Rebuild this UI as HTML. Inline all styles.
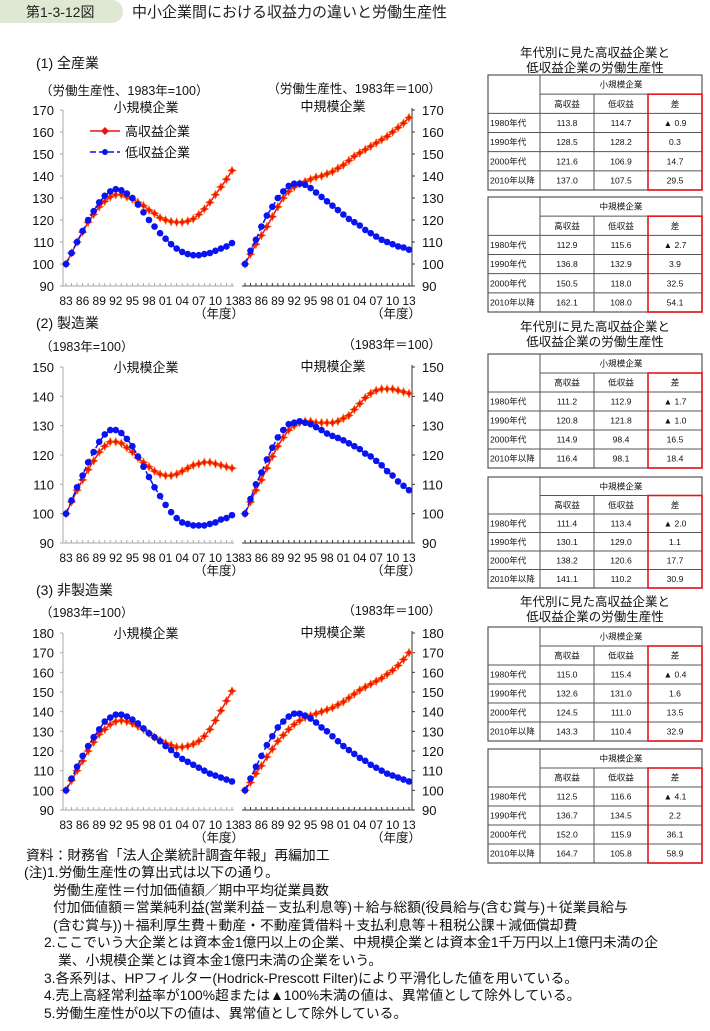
<!DOCTYPE html>
<html><head><meta charset="utf-8">
<style>
html,body{margin:0;padding:0;background:#fff;}
svg{display:block;font-family:"Liberation Sans","Noto Sans CJK JP",sans-serif;}
</style></head>
<body>
<svg id="root" width="710" height="1031" viewBox="0 0 710 1031" xmlns="http://www.w3.org/2000/svg">
  <rect x="0" y="0" width="710" height="1031" fill="#fff"/>
  <rect x="-12" y="0" width="135" height="23" rx="11" fill="#dfe8d2"/>
  <text x="26" y="17" font-size="14" fill="#222">第1-3-12図</text>
  <text x="132" y="17" font-size="15" fill="#222">中小企業間における収益力の違いと労働生産性</text>
  <g id="charts"></g>
  <g id="tables"></g>
  <g font-size="13.8" fill="#111">
    <text x="26" y="860">資料：財務省「法人企業統計調査年報」再編加工</text>
    <text x="24" y="877">(注)1.労働生産性の算出式は以下の通り。</text>
    <text x="53" y="895">労働生産性＝付加価値額／期中平均従業員数</text>
    <text x="53" y="912">付加価値額＝営業純利益(営業利益－支払利息等)＋給与総額(役員給与(含む賞与)＋従業員給与</text>
    <text x="53" y="930">(含む賞与))＋福利厚生費＋動産・不動産賃借料＋支払利息等＋租税公課＋減価償却費</text>
    <text x="44" y="947">2.ここでいう大企業とは資本金1億円以上の企業、中規模企業とは資本金1千万円以上1億円未満の企</text>
    <text x="58" y="965">業、小規模企業とは資本金1億円未満の企業をいう。</text>
    <text x="44" y="983">3.各系列は、HPフィルター(Hodrick-Prescott Filter)により平滑化した値を用いている。</text>
    <text x="44" y="1000">4.売上高経常利益率が100%超または▲100%未満の値は、異常値として除外している。</text>
    <text x="44" y="1018">5.労働生産性が0以下の値は、異常値として除外している。</text>
  </g>
</svg>
<script>
const years = [];
for (let y = 1983; y <= 2013; y++) years.push(y);
const tickYears = ["83","86","89","92","95","98","01","04","07","10","13"];

const allSmallHigh = [100,105,110,114.5,119,122.5,126,128.5,130.5,131.5,131.5,130.5,129.5,128,126.5,124.5,123,121,120,119.3,119,119,119.5,120.5,122.5,125,128,131.5,135,138.5,142.5];
const allSmallLow  = [100,105,110,115,120,124,128,131,133,134,133.5,132,130,127,123.5,120,117,114,111.5,109,107,105.5,104.5,104,104,104.5,105,106,107,108,109.5];
const allMidHigh   = [100,104.5,109,113,117,121.5,126,130,133,135,136.5,137.5,138.5,139.5,140,141,142,143.5,145,147,149,150.5,152,153.5,155,156.5,158,160,162,164,166.5];
const allMidLow    = [100,106,111,117,122,126,130,133,135.5,136.5,136.5,136,134.5,132.5,130.5,128.5,126.5,124.5,122.5,120.5,119,117.5,115.5,114,112.5,111,110,109,108,107.5,106.5];

const mfgSmallHigh = [100,104,108,111.5,115,118,121,123,124.5,124.5,124,122.5,121,119,117.5,116,114.5,113.5,113,113,113.5,114.5,115.5,116.5,117,117.5,117.5,117,116.5,116,115.5];
const mfgSmallLow  = [100,104.5,109,113,117.5,121,124.5,127,128.5,128.5,127.5,125.5,123,119.5,116,112.5,109,106,103,100.5,98.5,97,96.5,96,96,96,96.5,97,98,98.5,99.5];
const mfgMidHigh   = [100,104,108,111.5,115.5,119.5,123,126,128.5,130,131,131.5,131.5,131,131,131,131,131.5,132.5,133.5,135.5,137.5,139.5,141,142,142.5,142.5,142.5,142,141.5,141];
const mfgMidLow    = [100,105,110,114,118.5,122.5,126,128.5,130.5,131,131.5,131,130.5,129.5,128.5,127.3,126.5,125.8,125,124,123,122,120.5,119.5,118,116.5,114.5,113,111,109.5,108];

const nonSmallHigh = [100,105,110,115,120,124.5,128.5,131,133.5,135,135.5,135,134,132.5,131,129,127,125.5,124,123,122,122,122.5,123.5,125,127.5,131,135.5,140.5,145.5,150.5];
const nonSmallLow  = [100,106,112,117.5,122.5,127,131,135,137,138.5,138.5,137.5,136,134,131.5,129,127,125,122.5,120.5,118,116,114.5,113,111.5,110,108.5,107.5,106.5,105.5,104.5];
const nonMidHigh   = [100,104,108.5,112.5,117,121,125,128,131,133.5,135.5,137,138,139,140,141,142,143.5,145,147,149,151,152.5,154,155.5,157,159,161,163.5,166.5,170];
const nonMidLow    = [100,106,112,117.5,123,127.5,132,135,137.5,139,139,138,136.5,134.5,132,130,127.5,125,122.5,120.5,118.5,116.5,115,113,111.5,110,108.5,107.5,106.5,105.5,104.5];

const NS = "http://www.w3.org/2000/svg";
function mk(tag, attrs, parent, txt) {
  const e = document.createElementNS(NS, tag);
  for (const k in attrs) e.setAttribute(k, attrs[k]);
  if (txt !== undefined) e.textContent = txt;
  parent.appendChild(e);
  return e;
}
const chartsG = document.getElementById("charts");

const charts = [
  {title:"(1) 全産業", titleY:68, unitL:"（労働生産性、1983年=100）", unitR:"（労働生産性、1983年＝100）", unitY:95,
   min:90, max:170, step:10, top:110, bot:286, sub:"small-all", subY:112,
   sH:allSmallHigh, sL:allSmallLow, mH:allMidHigh, mL:allMidLow, legend:true},
  {title:"(2) 製造業", titleY:328, unitL:"（1983年=100）", unitR:"（1983年＝100）", unitY:351,
   min:90, max:150, step:10, top:367, bot:543, sub:"mfg", subY:372,
   sH:mfgSmallHigh, sL:mfgSmallLow, mH:mfgMidHigh, mL:mfgMidLow},
  {title:"(3) 非製造業", titleY:595, unitL:"（1983年=100）", unitR:"（1983年＝100）", unitY:617,
   min:90, max:180, step:10, top:633, bot:810, sub:"nonmfg", subY:638,
   sH:nonSmallHigh, sL:nonSmallLow, mH:nonMidHigh, mL:nonMidLow}
];

function drawSeries(g, vals, xf, yf, color, dashed, diamond, name) {
  const pts = vals.map((v,i)=>xf(i)+","+yf(v)).join(" ");
  const pl = mk("polyline",{points:pts,fill:"none",stroke:color,"stroke-width":1.5}, g);
  if (dashed) pl.setAttribute("stroke-dasharray","6,3");
  
  
  vals.forEach((v,i)=>{
    const x = xf(i), y = yf(v);
    let m;
    if (diamond) {
      m = mk("path",{d:`M${x} ${y-4}L${x+1.3} ${y-1.3}L${x+4} ${y}L${x+1.3} ${y+1.3}L${x} ${y+4}L${x-1.3} ${y+1.3}L${x-4} ${y}L${x-1.3} ${y-1.3}Z`,fill:"#f01010",stroke:"#ff5a00","stroke-width":0.8}, g);
    } else {
      m = mk("circle",{cx:x,cy:y,r:3.3,fill:"#0a14f0"}, g);
    }
    
    
  });
}

charts.forEach(c=>{
  const g = mk("g",{}, chartsG);
  
  
  const yf = v => c.bot - (v - c.min) / (c.max - c.min) * (c.bot - c.top);
  const t = mk("text",{x:36,y:c.titleY,"font-size":14,fill:"#111"}, g, c.title);
  
  
  const ul = mk("text",{x:40,y:c.unitY,"font-size":12.5,fill:"#111"}, g, c.unitL);
  
  
  const ur = mk("text",{x:441,y:c.unitY-2,"font-size":12.5,fill:"#111","text-anchor":"end"}, g, c.unitR);
  
  
  const s1 = mk("text",{x:146,y:c.subY,"font-size":13,fill:"#111","text-anchor":"middle"}, g, "小規模企業");
  
  
  const s2 = mk("text",{x:333,y:c.subY-1,"font-size":13,fill:"#111","text-anchor":"middle"}, g, "中規模企業");
  
  

  for (let v = c.min; v <= c.max; v += c.step) {
    const y = yf(v);
    const a = mk("text",{x:54,y:y+5,"font-size":13,"text-anchor":"end",fill:"#111"}, g, String(v));
    
    
    const b = mk("text",{x:422,y:y+5,"font-size":13,fill:"#111"}, g, String(v));
    
    
    mk("line",{x1:60,x2:63,y1:y,y2:y,stroke:"#aaa","stroke-width":1}, g);
    mk("line",{x1:412,x2:415,y1:y,y2:y,stroke:"#333","stroke-width":1}, g);
  }
  mk("line",{x1:63,x2:63,y1:c.top,y2:c.bot,stroke:"#aaa","stroke-width":1}, g);
  mk("line",{x1:412,x2:412,y1:c.top-2,y2:c.bot,stroke:"#333","stroke-width":1}, g);
  mk("line",{x1:63,x2:234,y1:c.bot,y2:c.bot,stroke:"#aaa","stroke-width":1}, g);
  mk("line",{x1:242,x2:412,y1:c.bot,y2:c.bot,stroke:"#333","stroke-width":1}, g);

  const panels = [
    {x0:66, x1:232, H:c.sH, L:c.sL, nm:"small", col:"#aaa"},
    {x0:245, x1:409, H:c.mH, L:c.mL, nm:"mid", col:"#333"}
  ];
  panels.forEach(p=>{
    const xf = i => p.x0 + i * (p.x1 - p.x0) / (years.length - 1);
    years.forEach((yr,i)=>{
      mk("line",{x1:xf(i),x2:xf(i),y1:c.bot,y2:c.bot-3,stroke:p.col,"stroke-width":1}, g);
    });
    tickYears.forEach((lb,k)=>{
      const tl = mk("text",{x:xf(k*3),y:c.bot+19,"font-size":12,"text-anchor":"middle",fill:"#111"}, g, lb);
      
      
    });
    const nd = mk("text",{x:p.x1-13,y:c.bot+32,"font-size":12.5,"text-anchor":"middle",fill:"#111"}, g, "（年度）");
    
    
    drawSeries(g, p.H, xf, yf, "#f01010", false, true, p.nm + "-high-profit");
    drawSeries(g, p.L, xf, yf, "#0a14f0", true, false, p.nm + "-low-profit");
  });

  if (c.legend) {
    const lg = mk("g",{}, g);
    
    
    mk("line",{x1:90,x2:120,y1:131,y2:131,stroke:"#f01010","stroke-width":1.5}, lg);
    mk("path",{d:"M105 127L109 131L105 135L101 131Z",fill:"#f01010"}, lg);
    mk("text",{x:125,y:136,"font-size":13,fill:"#111"}, lg, "高収益企業");
    mk("line",{x1:90,x2:120,y1:152,y2:152,stroke:"#0a14f0","stroke-width":1.5,"stroke-dasharray":"6,3"}, lg);
    mk("circle",{cx:105,cy:152,r:3,fill:"#0a14f0"}, lg);
    mk("text",{x:125,y:157,"font-size":13,fill:"#111"}, lg, "低収益企業");
  }
});

const tablesG = document.getElementById("tables");
const rowLabels = ["1980年代","1990年代","2000年代","2010年以降"];
const tA1 = [["113.8","114.7","▲ 0.9"],["128.5","128.2","0.3"],["121.6","106.9","14.7"],["137.0","107.5","29.5"]];
const tB1 = [["112.9","115.6","▲ 2.7"],["136.8","132.9","3.9"],["150.5","118.0","32.5"],["162.1","108.0","54.1"]];
const tA2 = [["111.2","112.9","▲ 1.7"],["120.8","121.8","▲ 1.0"],["114.9","98.4","16.5"],["116.4","98.1","18.4"]];
const tB2 = [["111.4","113.4","▲ 2.0"],["130.1","129.0","1.1"],["138.2","120.6","17.7"],["141.1","110.2","30.9"]];
const tA3 = [["115.0","115.4","▲ 0.4"],["132.6","131.0","1.6"],["124.5","111.0","13.5"],["143.3","110.4","32.9"]];
const tB3 = [["112.5","116.6","▲ 4.1"],["136.7","134.5","2.2"],["152.0","115.9","36.1"],["164.7","105.8","58.9"]];

const groups = [
  {ty:57, tables:[{top:75,h:115,head:"小規模企業",d:tA1},{top:197,h:115,head:"中規模企業",d:tB1}]},
  {ty:331, tables:[{top:354,h:114,head:"小規模企業",d:tA2},{top:477,h:111,head:"中規模企業",d:tB2}]},
  {ty:606, tables:[{top:627,h:114,head:"小規模企業",d:tA3},{top:749,h:114,head:"中規模企業",d:tB3}]}
];
const cx = [488,540,594,648,702];
groups.forEach((gr,gi)=>{
  const g = mk("g",{}, tablesG);
  
  
  mk("text",{x:595,y:gr.ty,"font-size":12.5,"text-anchor":"middle",fill:"#111"}, g, "年代別に見た高収益企業と");
  mk("text",{x:595,y:gr.ty+15,"font-size":12.5,"text-anchor":"middle",fill:"#111"}, g, "低収益企業の労働生産性");
  gr.tables.forEach(tb=>{
    const tg = mk("g",{}, g);
    
    
    const rh = tb.h / 6;
    const ys = []; for (let i=0;i<=6;i++) ys.push(tb.top + i*rh);
    mk("rect",{x:cx[0],y:tb.top,width:cx[4]-cx[0],height:tb.h,fill:"none",stroke:"#555","stroke-width":1.2}, tg);
    mk("line",{x1:cx[1],x2:cx[1],y1:ys[0],y2:ys[6],stroke:"#555"}, tg);
    mk("line",{x1:cx[2],x2:cx[2],y1:ys[1],y2:ys[6],stroke:"#555"}, tg);
    mk("line",{x1:cx[3],x2:cx[3],y1:ys[1],y2:ys[6],stroke:"#555"}, tg);
    mk("line",{x1:cx[1],x2:cx[4],y1:ys[1],y2:ys[1],stroke:"#555"}, tg);
    for (let i=2;i<6;i++) mk("line",{x1:cx[0],x2:cx[4],y1:ys[i],y2:ys[i],stroke:"#555"}, tg);
    mk("text",{x:(cx[1]+cx[4])/2,y:ys[0]+rh/2+3,"font-size":8.6,"text-anchor":"middle",fill:"#111"}, tg, tb.head);
    ["高収益","低収益","差"].forEach((h,k)=>{
      mk("text",{x:(cx[k+1]+cx[k+2])/2,y:ys[1]+rh/2+3,"font-size":8.6,"text-anchor":"middle",fill:"#111"}, tg, h);
    });
    tb.d.forEach((row,r)=>{
      mk("text",{x:cx[0]+2,y:ys[r+2]+rh/2+3,"font-size":8.6,fill:"#111"}, tg, rowLabels[r]);
      row.forEach((v,k)=>{
        const cell = mk("text",{x:(cx[k+1]+cx[k+2])/2,y:ys[r+2]+rh/2+3,"font-size":8.6,"text-anchor":"middle",fill:"#111"}, tg, v);
        
        
      });
    });
    const red = mk("rect",{x:cx[3],y:ys[1],width:cx[4]-cx[3],height:ys[6]-ys[1],fill:"none",stroke:"#e8141e","stroke-width":1.6}, tg);
    
    
  });
});
</script>
</body></html>
